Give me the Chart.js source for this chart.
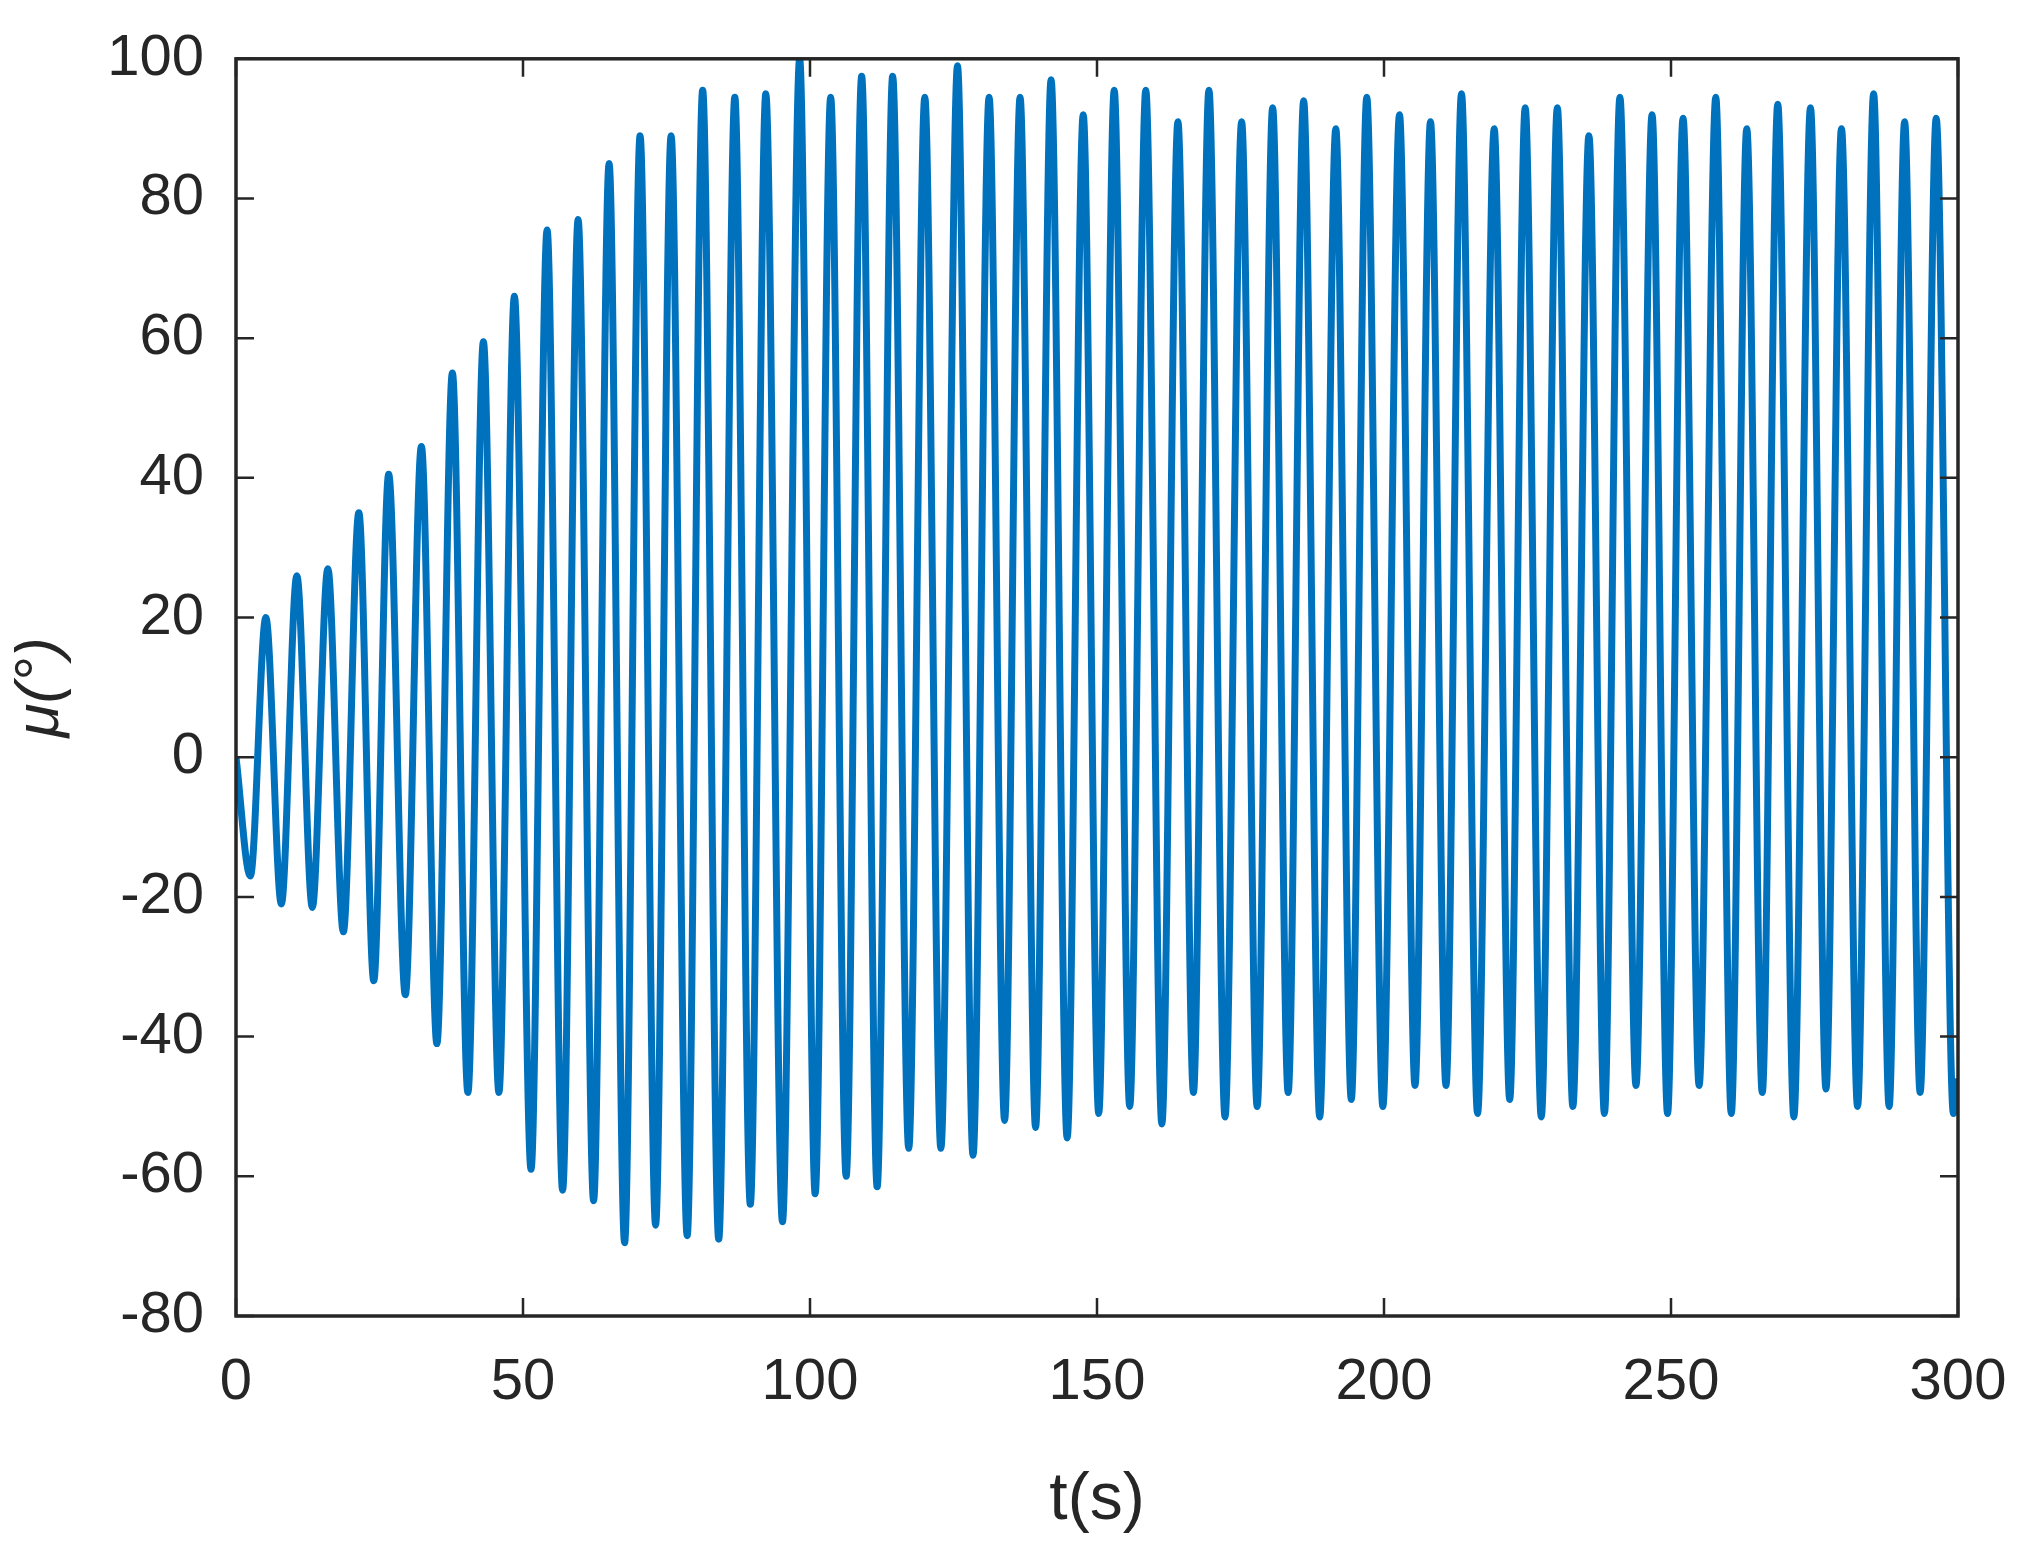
<!DOCTYPE html>
<html><head><meta charset="utf-8">
<script src="https://cdn.jsdelivr.net/npm/chart.js@4"></script>
<style>html,body{margin:0;padding:0;background:#fff}#w{width:2033px;height:1544px}</style>
</head><body><div id="w"><canvas id="c"></canvas></div>
<script>
const peakTimes=[5.2,10.6,16,21.4,26.6,32.3,37.7,43.1,48.5,54.2,59.6,65,70.4,75.8,81.3,86.9,92.3,98.2,103.6,109,114.4,120,125.7,131.2,136.6,142,147.6,153,158.5,164.1,169.5,175.2,180.6,186,191.6,197,202.7,208.1,213.5,219.2,224.6,230.2,235.7,241.1,246.7,252.1,257.8,263.2,268.6,274.3,279.7,285.3,290.7,296.2];
const peakValues=[20,26,27,35,40.5,44.5,55,59.5,66,75.5,77,85,89,89,95.5,94.5,95,100,94.5,97.5,97.5,94.5,99,94.5,94.5,97,92,95.5,95.5,91,95.5,91,93,94,90,94.5,92,91,95,90,93,93,89,94.5,92,91.5,94.5,90,93.5,93,90,95,91,91.5];
const troughTimes=[2.5,7.9,13.3,18.7,24,29.5,35,40.4,45.8,51.4,56.9,62.3,67.7,73.1,78.6,84.1,89.6,95.2,100.9,106.3,111.7,117.2,122.8,128.4,133.9,139.3,144.8,150.3,155.7,161.3,166.8,172.3,177.9,183.3,188.8,194.3,199.8,205.4,210.8,216.3,221.9,227.4,232.9,238.4,243.9,249.4,254.9,260.5,265.9,271.4,277,282.5,288,293.4,299.2];
const troughValues=[-17,-21,-21.5,-25,-32,-34,-41,-48,-48,-59,-62,-63.5,-69.5,-67,-68.5,-69,-64,-66.5,-62.5,-60,-61.5,-56,-56,-57,-52,-53,-54.5,-51,-50,-52.5,-48,-51.5,-50,-48,-51.5,-49,-50,-47,-47,-51,-49,-51.5,-50,-51,-47,-51,-47,-51,-48,-51.5,-47.5,-50,-50,-48,-51];
const xTicks=[0,50,100,150,200,250,300];
const yTicks=[-80,-60,-40,-20,0,20,40,60,80,100];
const pts=[{x:0,y:0}];
for(let i=0;i<troughTimes.length;i++){pts.push({x:troughTimes[i],y:troughValues[i]});if(i<peakTimes.length)pts.push({x:peakTimes[i],y:peakValues[i]});}
pts.push({x:300,y:-46});
const F='"Liberation Sans", Arial, sans-serif';
const inTicks={id:'inTicks',afterDraw(ch){const c=ch.ctx,a=ch.chartArea,x=ch.scales.x,y=ch.scales.y,L=18;c.save();c.strokeStyle='#262626';c.lineWidth=2.5;c.beginPath();
xTicks.forEach(v=>{const p=x.getPixelForValue(v);c.moveTo(p,a.bottom);c.lineTo(p,a.bottom-L);c.moveTo(p,a.top);c.lineTo(p,a.top+L);});
yTicks.forEach(v=>{const p=y.getPixelForValue(v);c.moveTo(a.left,p);c.lineTo(a.left+L,p);c.moveTo(a.right,p);c.lineTo(a.right-L,p);});
c.stroke();c.lineWidth=3.5;c.strokeRect(a.left,a.top,a.right-a.left,a.bottom-a.top);c.restore();}};
new Chart(document.getElementById('c'),{type:'line',data:{datasets:[{data:pts,borderColor:'#0072BD',borderWidth:7,pointRadius:0,cubicInterpolationMode:'monotone',fill:false}]},
options:{responsive:true,maintainAspectRatio:false,animation:false,events:[],layout:{padding:{top:45,right:75}},
plugins:{legend:{display:false},tooltip:{enabled:false}},
scales:{x:{type:'linear',min:0,max:300,afterBuildTicks(s){s.ticks=xTicks.map(v=>({value:v}));},afterFit(s){s.height=228;},grid:{display:false},border:{display:false},ticks:{font:{family:F,size:58},color:'#262626',padding:24,maxRotation:0},title:{display:true,text:'t(s)',font:{family:F,size:66},color:'#262626',padding:{top:8}}},
y:{type:'linear',min:-80,max:100,afterBuildTicks(s){s.ticks=yTicks.map(v=>({value:v}));},afterFit(s){s.width=236;},grid:{display:false},border:{display:false},ticks:{font:{family:F,size:58},color:'#262626',padding:24},title:{display:true,text:'μ(°)',font:{family:F,size:62,style:'italic'},color:'#262626',padding:{bottom:6}}}}},plugins:[inTicks]});
</script></body></html>
